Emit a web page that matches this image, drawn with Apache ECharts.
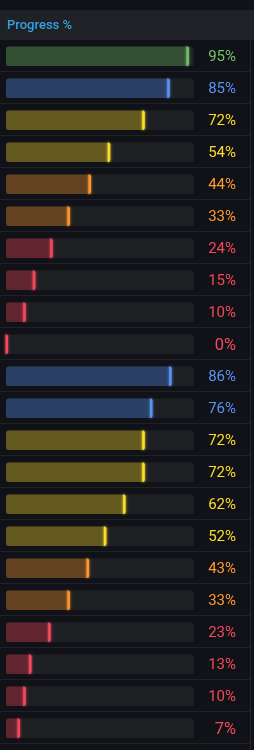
<!DOCTYPE html>
<html><head><meta charset="utf-8">
<script src="https://cdn.jsdelivr.net/npm/echarts@6/dist/echarts.min.js"></script>
<style>html,body{margin:0;padding:0;background:#111217;overflow:hidden}#c{width:254px;height:750px}</style>
</head><body><div id="c"></div>
<script>
const headerTitle = 'Progress %';
const rowIds = ['1','2','3','4','5','6','7','8','9','10','11','12','13','14','15','16','17','18','19','20','21','22'];
const progress = [95,85,72,54,44,33,24,15,10,0,86,76,72,72,62,52,43,33,23,13,10,7];
const thresholdSteps = [0, 30, 50, 75, 90];
const thresholdColors = ['#F2495C', '#FF9830', '#FADE2A', '#5794F2', '#73BF69'];

const ROW_BG = '#111217';
const HEADER_BG = '#1f2126';
const TRACK = '#1f2024';
const LINE = '#202227';

function colorFor(v) {
  let c = thresholdColors[0];
  for (let k = 0; k < thresholdSteps.length; k++) if (v >= thresholdSteps[k]) c = thresholdColors[k];
  return c;
}
function hex(c) { return [1,3,5].map(o => parseInt(c.substr(o,2),16)); }
function blend(c, bg, a) {
  const x = hex(c), y = hex(bg);
  return 'rgb(' + x.map((v,k) => Math.round(v*a + y[k]*(1-a))).join(',') + ')';
}

const chart = echarts.init(document.getElementById('c'), null, {renderer: 'canvas'});
chart.setOption({
  backgroundColor: ROW_BG,
  animation: false,
  grid: {left: 6.5, right: 55.5, top: 40, height: 704},
  xAxis: {type: 'value', min: 0, max: 100, show: false},
  yAxis: {type: 'category', data: rowIds, inverse: true, show: false},
  graphic: [
    {type: 'rect', shape: {x: 0, y: 10, width: 254, height: 30}, style: {fill: HEADER_BG}, z: 0},
    {type: 'text', x: 7, y: 25.5, style: {text: headerTitle, fill: '#33a2e5', font: '500 13px Roboto', verticalAlign: 'middle'}, z: 10},
    {type: 'rect', shape: {x: 250, y: 10, width: 1, height: 740}, style: {fill: '#26282d'}, z: 10}
  ],
  series: [{
    type: 'custom',
    data: progress.map((v, i) => [v, i]),
    encode: {x: 0, y: 1},
    renderItem: function (params, api) {
      const v = api.value(0), i = api.value(1);
      const cs = params.coordSys;
      const p0 = api.coord([0, i]);
      const p1 = api.coord([v, i]);
      const cy = p0[1];
      const top = cy - 9.5, h = 19.5;
      const col = colorFor(v);
      const tl = cs.x - 0.5, tr = cs.x + cs.width - 4.5;
      const fr = Math.max(p1[0], p0[0] + 1.5);
      const txt = v + '%';
      const fs = String(v).length > 1 ? 15 : 16.5;
      return {
        type: 'group',
        children: [
          {type: 'rect', shape: {x: 0, y: cy + 15, width: 250, height: 1}, style: {fill: LINE}},
          {type: 'rect', shape: {x: tl, y: top, width: tr - tl, height: h, r: 3}, style: {fill: TRACK}},
          {type: 'rect', shape: {x: tl, y: top, width: fr - tl, height: h, r: 2.5}, style: {fill: blend(col, ROW_BG, 0.35)}},
          {type: 'rect', shape: {x: fr - 2.5, y: top, width: 2.5, height: h, r: [0, 2, 2, 0]}, style: {fill: col, shadowBlur: 3, shadowColor: col}},
          {type: 'text', x: 236, y: cy + 1.5, style: {text: txt, fill: col, font: fs + 'px Roboto', align: 'right', verticalAlign: 'middle'}}
        ]
      };
    }
  }]
});
</script>
</body></html>
